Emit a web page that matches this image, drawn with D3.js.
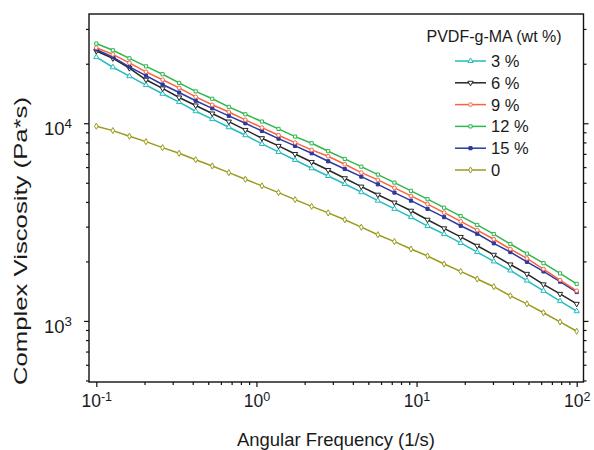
<!DOCTYPE html>
<html>
<head>
<meta charset="utf-8">
<script src="https://cdn.jsdelivr.net/npm/d3@7"></script>
<style>
body { margin: 0; background: #fff; }
svg { display: block; font-family: "Liberation Sans", Arial, sans-serif; }
</style>
</head>
<body>
<div id="chart"></div>
<script>
// angular frequency (1/s)
var freq = [0.1, 0.1269, 0.161, 0.2043, 0.2593, 0.329, 0.4175, 0.5298, 0.6723, 0.853,
    1.082, 1.374, 1.743, 2.212, 2.806, 3.561, 4.518, 5.733, 7.275, 9.231,
    11.71, 14.86, 18.86, 23.93, 30.37, 38.53, 48.9, 62.04, 78.73, 100];

// complex viscosity (Pa*s)
var visc3 = [21600, 19200, 17300, 15600, 14100, 12800, 11500, 10500, 9550, 8700,
    7860, 7160, 6520, 5920, 5410, 4930, 4480, 4060, 3690, 3350,
    3020, 2750, 2480, 2230, 2000, 1800, 1600, 1420, 1260, 1120];
var visc6 = [23200, 21300, 19000, 16600, 15000, 13500, 12300, 11200, 10200, 9250,
    8400, 7680, 6990, 6370, 5800, 5270, 4780, 4350, 3970, 3610,
    3250, 2940, 2660, 2400, 2160, 1930, 1730, 1530, 1370, 1220];
var visc9 = [24100, 22300, 20200, 18200, 16600, 15100, 13600, 12400, 11400, 10400,
    9500, 8700, 7980, 7330, 6810, 6200, 5630, 5170, 4710, 4290,
    3900, 3530, 3190, 2880, 2590, 2310, 2070, 1830, 1610, 1420];
var visc12 = [25300, 23400, 21300, 19400, 17700, 16000, 14500, 13300, 12100, 11100,
    10200, 9360, 8560, 7920, 7220, 6600, 6030, 5500, 5010, 4550,
    4130, 3740, 3390, 3060, 2750, 2450, 2190, 1960, 1740, 1540];
var visc15 = [23600, 21600, 19300, 17400, 15700, 14300, 13000, 11900, 10900, 10000,
    9140, 8360, 7680, 7050, 6420, 5870, 5370, 4910, 4460, 4060,
    3690, 3350, 3030, 2760, 2470, 2230, 1990, 1780, 1580, 1400];
var visc0 = [9660, 9180, 8600, 8070, 7530, 7050, 6540, 6080, 5630, 5210,
    4820, 4460, 4110, 3800, 3520, 3250, 2980, 2730, 2520, 2310,
    2130, 1940, 1780, 1630, 1490, 1340, 1220, 1100, 988, 887];

var seriesNames = ["3 %", "6 %", "9 %", "12 %", "15 %", "0"];
var seriesValues = [visc3, visc6, visc9, visc12, visc15, visc0];
var seriesColors = ["#22bcbc", "#262626", "#fa6240", "#2eb84c", "#2b3a9e", "#9c9a1c"];
var seriesMarkers = ["triUp", "triDown", "circle", "square", "filled", "diamond"];

var legendTitle = "PVDF-g-MA (wt %)";
var xTitle = "Angular Frequency (1/s)";
var yTitle = "Complex Viscosity (Pa*s)";

var width = 594, height = 450;
var mLeft = 89, mRight = 583.5, mTop = 14, mBottom = 382;

var svg = d3.select("#chart").append("svg")
    .attr("width", width)
    .attr("height", height);

var x = d3.scaleLog().domain([0.09003, 110.3]).range([mLeft, mRight]);
var y = d3.scaleLog().domain([491, 35700]).range([mBottom, mTop]);

function minors(lo, hi) {
    var out = [];
    for (var e = Math.floor(Math.log10(lo)); e <= Math.ceil(Math.log10(hi)); e++) {
        for (var m = 2; m <= 9; m++) {
            var v = m * Math.pow(10, e);
            if (v > lo && v < hi) out.push(v);
        }
    }
    return out;
}

function supLabels(sel) {
    sel.selectAll(".tick text").each(function(d) {
        var t = d3.select(this);
        t.text(null);
        t.append("tspan").text("10");
        t.append("tspan")
            .attr("dy", "-0.5em")
            .attr("font-size", "0.72em")
            .text(Math.round(Math.log10(d)));
    });
}

var xMajor = [0.1, 1, 10, 100];
var yMajor = [1000, 10000];
var xMinor = minors(0.09003, 110.3);
var yMinor = minors(491, 35700);

// bottom axis
var gx = svg.append("g").attr("transform", "translate(0," + mBottom + ")")
    .call(d3.axisBottom(x).tickValues(xMajor).tickSize(5).tickPadding(8));
gx.selectAll("text").attr("font-size", 17.5).attr("fill", "#1a1a1a");
supLabels(gx);
svg.append("g").attr("transform", "translate(0," + mBottom + ")")
    .call(d3.axisBottom(x).tickValues(xMinor).tickSize(3).tickFormat(""));

// left axis
var gy = svg.append("g").attr("transform", "translate(" + mLeft + ",0)")
    .call(d3.axisLeft(y).tickValues(yMajor).tickSize(5).tickPadding(12));
gy.selectAll("text").attr("font-size", 18.5).attr("fill", "#1a1a1a").attr("dy", "0.6em");
supLabels(gy);
svg.append("g").attr("transform", "translate(" + mLeft + ",0)")
    .call(d3.axisLeft(y).tickValues(yMinor).tickSize(3).tickFormat(""));

// right axis (ticks only)
svg.append("g").attr("transform", "translate(" + mRight + ",0)")
    .call(d3.axisRight(y).tickValues(yMajor).tickSize(5).tickFormat(""));
svg.append("g").attr("transform", "translate(" + mRight + ",0)")
    .call(d3.axisRight(y).tickValues(yMinor).tickSize(3).tickFormat(""));

svg.selectAll(".domain").remove();
svg.selectAll(".tick line").attr("stroke", "#111").attr("stroke-width", 1.2);
svg.selectAll("g").attr("font-family", null);

svg.append("rect")
    .attr("x", mLeft).attr("y", mTop)
    .attr("width", mRight - mLeft).attr("height", mBottom - mTop)
    .attr("fill", "none").attr("stroke", "#111").attr("stroke-width", 1.4);

// marker paths
var sym = d3.symbol();
function markerPath(kind) {
    if (kind == "triUp" || kind == "triDown") return sym.type(d3.symbolTriangle).size(12)();
    if (kind == "circle") return sym.type(d3.symbolCircle).size(11)();
    if (kind == "diamond") return sym.type(d3.symbolDiamond).size(11)();
    return sym.type(d3.symbolSquare).size(10)();
}
function drawMarker(g, kind, color, px, py) {
    g.append("path")
        .attr("d", markerPath(kind))
        .attr("transform", "translate(" + px + "," + py + ")" + (kind == "triDown" ? " rotate(180)" : ""))
        .attr("fill", kind == "filled" ? color : "#fff")
        .attr("stroke", color)
        .attr("stroke-width", 1);
}

var line = d3.line()
    .x(function(d) { return x(d[0]); })
    .y(function(d) { return y(d[1]); });

var plot = svg.append("g");
// draw olive first, then the others
var order = [5, 0, 1, 4, 2, 3];
order.forEach(function(k) {
    var pts = freq.map(function(f, i) { return [f, seriesValues[k][i]]; });
    var g = plot.append("g");
    g.append("path")
        .attr("d", line(pts))
        .attr("fill", "none")
        .attr("stroke", seriesColors[k])
        .attr("stroke-width", 1.5);
    pts.forEach(function(p) {
        drawMarker(g, seriesMarkers[k], seriesColors[k], x(p[0]), y(p[1]));
    });
});

// legend
var lg = svg.append("g");
lg.append("text")
    .attr("x", 426.5).attr("y", 42)
    .attr("font-size", 16).attr("fill", "#1a1a1a")
    .text(legendTitle);
seriesNames.forEach(function(name, k) {
    var cy = 61 + k * 21.8;
    lg.append("line")
        .attr("x1", 455).attr("x2", 486)
        .attr("y1", cy).attr("y2", cy)
        .attr("stroke", seriesColors[k]).attr("stroke-width", 1.5);
    drawMarker(lg, seriesMarkers[k], seriesColors[k], 470.5, cy);
    lg.append("text")
        .attr("x", 491).attr("y", cy + 6)
        .attr("font-size", 16.5).attr("fill", "#1a1a1a")
        .text(name);
});

// axis titles
svg.append("text")
    .attr("x", 336).attr("y", 446)
    .attr("text-anchor", "middle")
    .attr("font-size", 18.5).attr("fill", "#1a1a1a")
    .attr("textLength", 198).attr("lengthAdjust", "spacingAndGlyphs")
    .text(xTitle);

svg.append("text")
    .attr("transform", "translate(27,241) rotate(-90)")
    .attr("text-anchor", "middle")
    .attr("font-size", 17.5).attr("fill", "#1a1a1a")
    .attr("textLength", 288).attr("lengthAdjust", "spacingAndGlyphs")
    .text(yTitle);
</script>
</body>
</html>
